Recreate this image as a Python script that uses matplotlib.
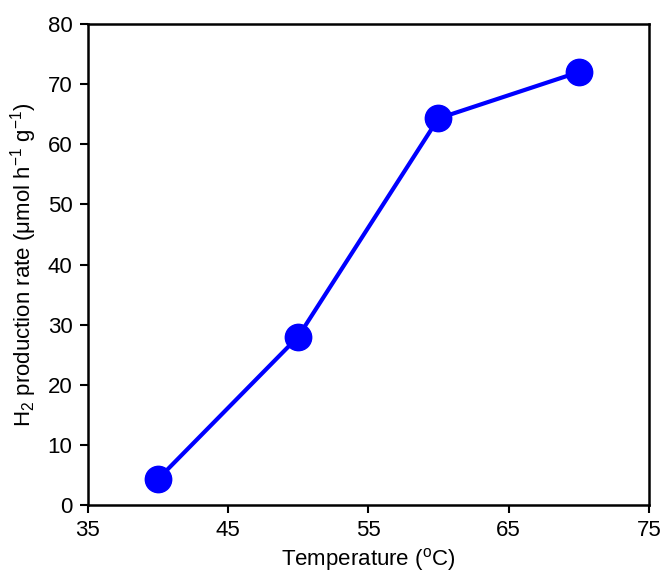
import matplotlib
matplotlib.use("Agg")
import matplotlib.pyplot as plt

temperature = [40, 50, 60, 70]
h2_rate = [4.3, 28.0, 64.3, 72.0]
x_ticks = [35, 45, 55, 65, 75]
y_ticks = [0, 10, 20, 30, 40, 50, 60, 70, 80]

plt.rcParams["font.family"] = ["Liberation Sans", "DejaVu Sans"]
plt.rcParams["mathtext.fontset"] = "custom"
plt.rcParams["mathtext.rm"] = "Liberation Sans"
plt.rcParams["mathtext.it"] = "Liberation Sans"
plt.rcParams["mathtext.default"] = "regular"

fig = plt.figure(figsize=(6.6, 5.72), dpi=100)
ax = fig.add_axes([0.133, 0.117, 0.850, 0.841])

ax.plot(temperature, h2_rate, color="#0000ff", linewidth=3.0,
        marker="o", markersize=19, zorder=3)

ax.set_xlim(35, 75)
ax.set_ylim(0, 80)
ax.set_xticks(x_ticks)
ax.set_yticks(y_ticks)
ax.tick_params(direction="out", length=6, width=1.5, labelsize=16, pad=5)
for s in ax.spines.values():
    s.set_linewidth(1.8)

ax.set_xlabel("Temperature ($^{o}$C)", fontsize=16, labelpad=3)
ax.set_ylabel("H$_2$ production rate (μmol h$^{−1}$ g$^{−1}$)", fontsize=16, labelpad=6)

fig.savefig("out.png", dpi=100)
